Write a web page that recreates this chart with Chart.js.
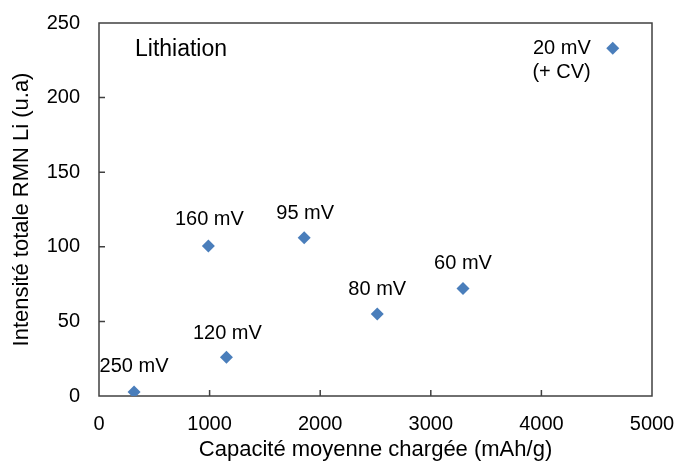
<!DOCTYPE html>
<html>
<head>
<meta charset="utf-8">
<script src="https://cdn.jsdelivr.net/npm/chart.js@4.4.0/dist/chart.umd.min.js"></script>
<style>
  html, body { margin: 0; padding: 0; background: #fff; }
  #wrap { width: 677px; height: 461px; }
</style>
</head>
<body>
<div id="wrap"><canvas id="chart" width="677" height="461"></canvas></div>
<script>
// data
const capacity = [317, 1152, 989, 1855, 2516, 3291, 4645]
const intensity = [2.7, 25.9, 100.5, 106, 55, 72, 233]
const pointLabels = ["250 mV", "120 mV", "160 mV", "95 mV", "80 mV", "60 mV", ["20 mV", "(+ CV)"]]
const xTicks = [0, 1000, 2000, 3000, 4000, 5000]
const yTicks = [0, 50, 100, 150, 200, 250]

const FONT = '"Liberation Sans", Arial, sans-serif'
const markerColor = "#4A7EBB"
const frameColor = "#404040"

// label offsets from each point, in pixels
const labelOffsets = [[0, -25], [1, -24], [1, -27], [1, -24], [0, -24], [0, -25], [-22, 0]]

const annotate = {
  id: "annotate",
  beforeDatasetsDraw(chart) {
    const { ctx, chartArea: a, scales } = chart
    ctx.save()
    ctx.strokeStyle = frameColor
    ctx.lineWidth = 1.5
    ctx.strokeRect(a.left, a.top, a.right - a.left, a.bottom - a.top)
    ctx.beginPath()
    xTicks.slice(1, -1).forEach((v) => {
      const x = scales.x.getPixelForValue(v)
      ctx.moveTo(x, a.bottom)
      ctx.lineTo(x, a.bottom - 6)
    })
    yTicks.slice(1, -1).forEach((v) => {
      const y = scales.y.getPixelForValue(v)
      ctx.moveTo(a.left, y)
      ctx.lineTo(a.left + 6, y)
    })
    ctx.stroke()
    ctx.restore()
  },
  afterDatasetsDraw(chart) {
    const { ctx, chartArea: a } = chart
    const meta = chart.getDatasetMeta(0)
    ctx.save()
    ctx.font = "20px " + FONT
    ctx.fillStyle = "#000"
    ctx.textBaseline = "middle"
    meta.data.forEach((pt, i) => {
      const [dx, dy] = labelOffsets[i]
      const txt = pointLabels[i]
      if (Array.isArray(txt)) {
        ctx.textAlign = "right"
        txt.forEach((line, j) => ctx.fillText(line, pt.x + dx, pt.y + dy + j * 24))
      } else {
        ctx.textAlign = "center"
        ctx.fillText(txt, pt.x + dx, pt.y + dy)
      }
    })
    ctx.textAlign = "left"
    ctx.font = "23px " + FONT
    ctx.fillText("Lithiation", a.left + 36, a.top + 27)
    ctx.restore()
  }
}

new Chart(document.getElementById("chart"), {
  type: "scatter",
  data: {
    datasets: [{
      data: capacity.map((c, i) => ({ x: c, y: intensity[i] })),
      pointStyle: "rectRot",
      pointRadius: 6.5,
      pointBackgroundColor: markerColor,
      pointBorderColor: markerColor,
      pointBorderWidth: 0,
    }]
  },
  options: {
    responsive: false,
    animation: false,
    devicePixelRatio: 1,
    layout: { padding: { top: 23, right: 25, bottom: 0, left: 0 } },
    plugins: { legend: { display: false }, tooltip: { enabled: false } },
    scales: {
      x: {
        type: "linear",
        min: 0,
        max: 5000,
        afterBuildTicks: (s) => { s.ticks = xTicks.map((v) => ({ value: v })) },
        afterFit: (s) => {
          s.height = 65
          s.paddingLeft = 0
          s.paddingRight = 0
        },
        grid: { display: false, drawTicks: false },
        border: { display: false },
        ticks: {
          color: "#000",
          font: { family: FONT, size: 20 },
          padding: 16,
          maxRotation: 0,
          callback: (v) => String(v),
        },
        title: {
          display: true,
          text: "Capacité moyenne chargée (mAh/g)",
          color: "#000",
          font: { family: FONT, size: 22, lineHeight: 1 },
          padding: { top: 0, bottom: 0 },
        },
      },
      y: {
        type: "linear",
        min: 0,
        max: 250,
        afterBuildTicks: (s) => { s.ticks = yTicks.map((v) => ({ value: v })) },
        afterFit: (s) => {
          s.width = 99
          s.paddingTop = 0
          s.paddingBottom = 0
        },
        grid: { display: false, drawTicks: false },
        border: { display: false },
        ticks: {
          color: "#000",
          font: { family: FONT, size: 20 },
          padding: 19,
          callback: (v) => String(v),
        },
        title: {
          display: true,
          text: "Intensité totale RMN Li (u.a)",
          color: "#000",
          font: { family: FONT, size: 22, lineHeight: 1.2 },
          padding: { top: 9, bottom: 0 },
        },
      },
    },
  },
  plugins: [annotate],
})
</script>
</body>
</html>
